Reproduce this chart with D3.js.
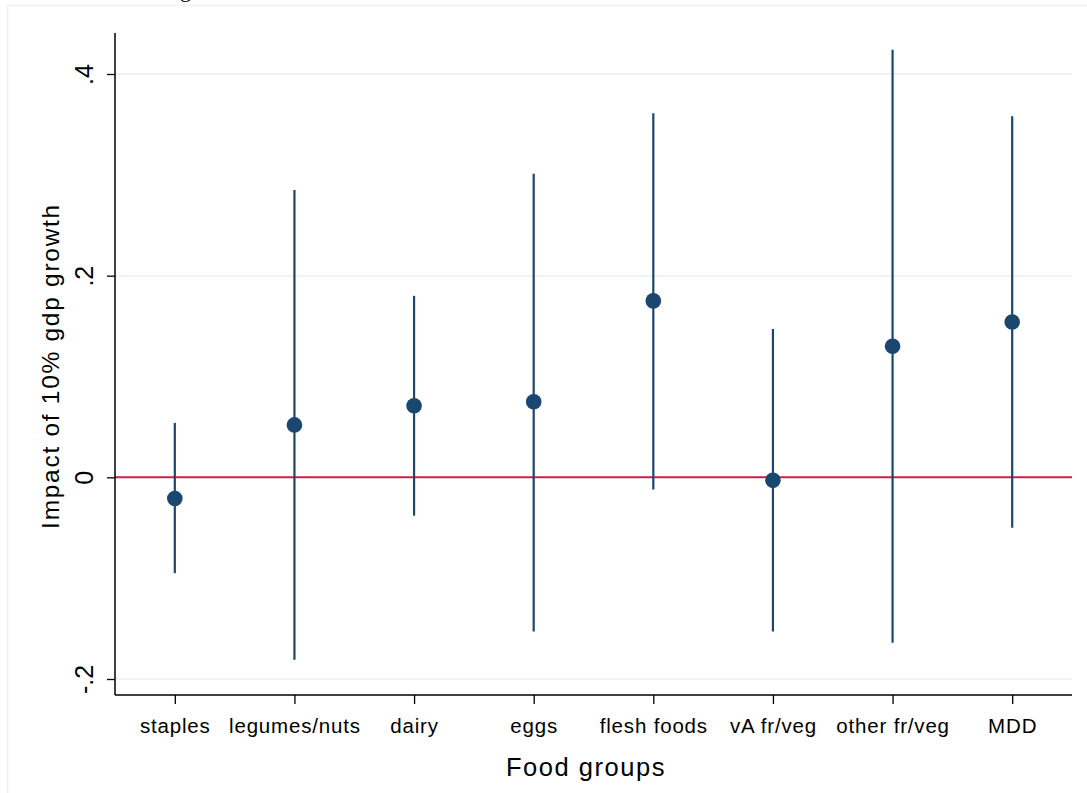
<!DOCTYPE html>
<html>
<head>
<meta charset="utf-8">
<script src="https://cdn.jsdelivr.net/npm/d3@7"></script>
<style>
  html, body { margin: 0; padding: 0; background: #fff; }
  svg { display: block; }
  text { font-family: "Liberation Sans", Arial, sans-serif; fill: #000; }
</style>
</head>
<body>
<svg id="chart" width="1087" height="793"></svg>
<script>
const categories = ["staples", "legumes/nuts", "dairy", "eggs", "flesh foods", "vA fr/veg", "other fr/veg", "MDD"];
const estimates  = [-0.021, 0.052, 0.071, 0.075, 0.175, -0.003, 0.130, 0.154];
const ciLower    = [-0.095, -0.181, -0.038, -0.153, -0.012, -0.153, -0.164, -0.050];
const ciUpper    = [0.054, 0.285, 0.180, 0.301, 0.361, 0.147, 0.424, 0.358];
const yTicks     = [-0.2, 0, 0.2, 0.4];
const yTickLabels = ["-.2", "0", ".2", ".4"];

const svg = d3.select("#chart");
const W = 1087, H = 793;
const plot = { left: 115, right: 1072, top: 33, bottom: 695 };

// outer frame (light)
svg.append("path")
  .attr("d", `M7.5,${H} V5.5 H${W}`)
  .attr("fill", "none").attr("stroke", "#eaf2f3").attr("stroke-width", 1.5);

// partially visible title glyph (cut off at top, as in the reference)
svg.append("text").attr("x", 180).attr("y", -3)
  .style("font-family", "'Liberation Serif', serif").style("font-size", "22px").text("g");

const x = d3.scalePoint().domain(categories).range([plot.left, plot.right]).padding(0.5);
const y = d3.scaleLinear().domain([-0.2, 0.4]).range([679, 74]);

// gridlines
svg.append("g").selectAll("line").data(yTicks).join("line")
  .attr("x1", plot.left).attr("x2", plot.right)
  .attr("y1", d => y(d)).attr("y2", d => y(d))
  .attr("stroke", "#eaf2f3").attr("stroke-width", 1.5);

// reference line at 0
svg.append("line")
  .attr("x1", plot.left).attr("x2", plot.right)
  .attr("y1", y(0)).attr("y2", y(0))
  .attr("stroke", "#c8234c").attr("stroke-width", 2);

// y axis
const yAxis = d3.axisLeft(y).tickValues(yTicks).tickSize(8).tickPadding(14)
  .tickFormat((d, i) => yTickLabels[i]);
const gy = svg.append("g").attr("transform", `translate(${plot.left},0)`).call(yAxis);
gy.select(".domain").remove();
gy.selectAll(".tick line").attr("stroke", "#000").attr("stroke-width", 1.3);
gy.selectAll(".tick text")
  .attr("x", null).attr("dy", null)
  .attr("transform", "translate(-22,0) rotate(-90)")
  .attr("text-anchor", "middle")
  .style("font-size", "25px");
svg.append("line").attr("x1", plot.left).attr("x2", plot.left)
  .attr("y1", plot.top).attr("y2", plot.bottom)
  .attr("stroke", "#000").attr("stroke-width", 1.5);

// x axis
const xAxis = d3.axisBottom(x).tickSize(9).tickPadding(14);
const gx = svg.append("g").attr("transform", `translate(0,${plot.bottom})`).call(xAxis);
gx.select(".domain").remove();
gx.selectAll(".tick line").attr("stroke", "#000").attr("stroke-width", 1.3);
gx.selectAll(".tick text")
  .attr("dy", null).attr("y", 38)
  .style("font-size", "20.5px").style("letter-spacing", "0.04em");
svg.append("line").attr("x1", plot.left).attr("x2", plot.right)
  .attr("y1", plot.bottom).attr("y2", plot.bottom)
  .attr("stroke", "#000").attr("stroke-width", 1.5);

// CI lines
const rows = categories.map((c, i) => ({ c, est: estimates[i], lo: ciLower[i], hi: ciUpper[i] }));
svg.append("g").selectAll("line").data(rows).join("line")
  .attr("x1", d => x(d.c)).attr("x2", d => x(d.c))
  .attr("y1", d => y(d.lo)).attr("y2", d => y(d.hi))
  .attr("stroke", "#1a476f").attr("stroke-width", 2.2);

// point estimates
svg.append("g").selectAll("circle").data(rows).join("circle")
  .attr("cx", d => x(d.c)).attr("cy", d => y(d.est)).attr("r", 7.8)
  .attr("fill", "#1a476f");

// axis titles
svg.append("text")
  .attr("transform", `translate(59,366) rotate(-90)`)
  .attr("text-anchor", "middle")
  .style("font-size", "24.5px").style("letter-spacing", "0.07em")
  .text("Impact of 10% gdp growth");

svg.append("text")
  .attr("x", 586).attr("y", 776)
  .attr("text-anchor", "middle")
  .style("font-size", "25.5px").style("letter-spacing", "0.06em")
  .text("Food groups");
</script>
</body>
</html>
